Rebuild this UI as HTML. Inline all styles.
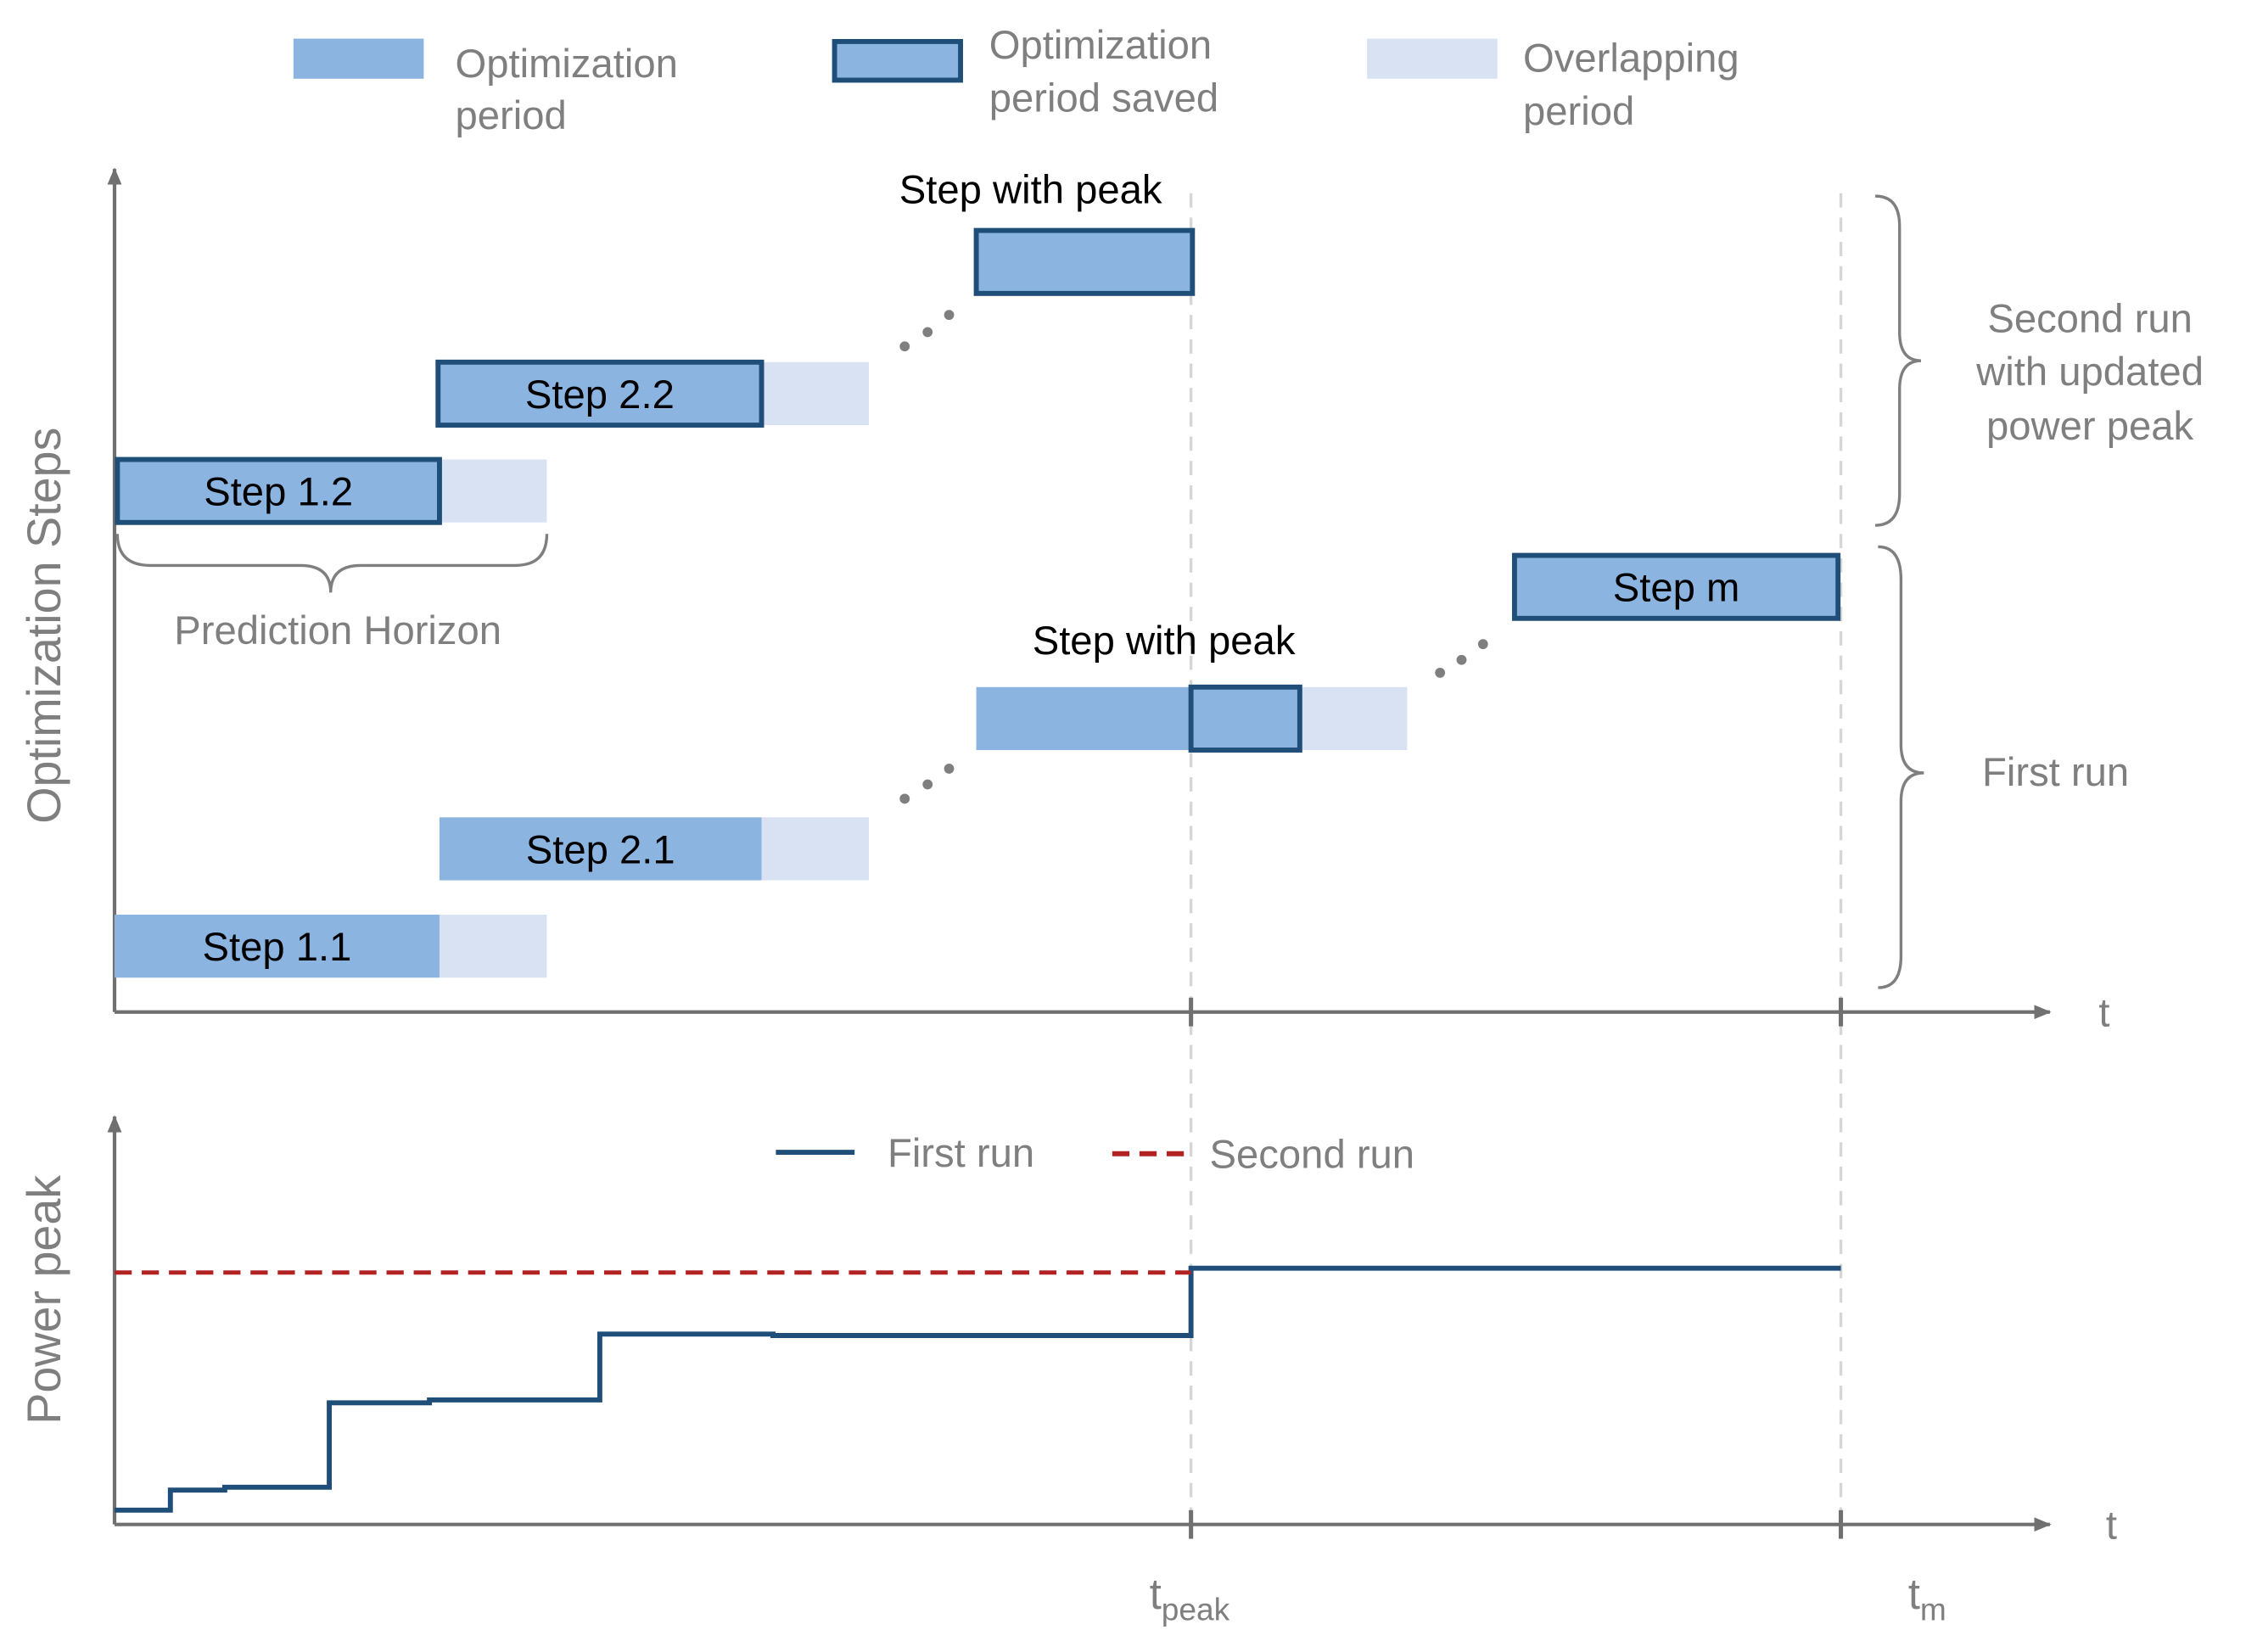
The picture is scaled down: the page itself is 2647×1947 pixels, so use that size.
<!DOCTYPE html>
<html><head><meta charset="utf-8"><style>
html,body{margin:0;padding:0;background:#fff}
svg{display:block}
text{font-family:"Liberation Sans",sans-serif}
.g{fill:#7f7f7f}
.k{fill:#000}
</style></head><body>
<svg id="chart" width="2647" height="1947" viewBox="0 0 1569 1154.1" xmlns="http://www.w3.org/2000/svg">
<defs>
<marker id="arr" markerWidth="12" markerHeight="10" refX="11" refY="5" orient="auto" markerUnits="userSpaceOnUse"><path d="M0,0 L12,5 L0,10 Z" fill="#707070"/></marker>
</defs>
<g>
<rect x="205" y="27" width="91" height="28" fill="#8cb4e0"/>
<text x="318" y="54" font-size="28" class="g">Optimization</text>
<text x="318" y="90" font-size="28" class="g">period</text>
<rect x="583" y="29" width="88" height="27" fill="#8cb4e0" stroke="#1f4e79" stroke-width="3.5"/>
<text x="691" y="41" font-size="28" class="g">Optimization</text>
<text x="691" y="78" font-size="28" class="g">period saved</text>
<rect x="955" y="27" width="91" height="28" fill="#d9e2f3"/>
<text x="1064" y="50" font-size="28" class="g">Overlapping</text>
<text x="1064" y="87" font-size="28" class="g">period</text>
</g>
<line x1="832" y1="135" x2="832" y2="1072" stroke="#d6d6d6" stroke-width="2" stroke-dasharray="10,7"/>
<line x1="1286" y1="135" x2="1286" y2="1072" stroke="#d6d6d6" stroke-width="2" stroke-dasharray="10,7"/>
<line x1="80" y1="707" x2="80" y2="118" stroke="#707070" stroke-width="2.5" marker-end="url(#arr)"/>
<line x1="80" y1="707" x2="1432" y2="707" stroke="#707070" stroke-width="2.5" marker-end="url(#arr)"/>
<text x="1470" y="717" font-size="28" class="g" text-anchor="middle">t</text>
<line x1="832" y1="697" x2="832" y2="717" stroke="#707070" stroke-width="3"/>
<line x1="1286" y1="697" x2="1286" y2="717" stroke="#707070" stroke-width="3"/>
<text transform="translate(42,437) rotate(-90)" font-size="33" class="g" text-anchor="middle">Optimization Steps</text>
<g id="bars"></g>
<g fill="#7f7f7f">
<circle cx="632" cy="242" r="3.5"/><circle cx="648" cy="232" r="3.5"/><circle cx="663" cy="220" r="3.5"/>
<circle cx="632" cy="558" r="3.5"/><circle cx="648" cy="548" r="3.5"/><circle cx="663" cy="537" r="3.5"/>
<circle cx="1006" cy="470" r="3.5"/><circle cx="1021" cy="461" r="3.5"/><circle cx="1036" cy="450" r="3.5"/>
</g>
<text x="720" y="142" font-size="28" class="k" text-anchor="middle">Step with peak</text>
<text x="813" y="457" font-size="28" class="k" text-anchor="middle">Step with peak</text>
<path d="M82,373 Q82,395 105,395 L210,395 Q231,395 231,414 Q231,395 252,395 L360,395 Q382,395 382,373" fill="none" stroke="#7f7f7f" stroke-width="2"/>
<text x="236" y="450" font-size="28" class="g" text-anchor="middle">Prediction Horizon</text>
<path d="M1310,137 Q1327,137 1327,158 L1327,232 Q1327,252 1342,252 Q1327,252 1327,272 L1327,345 Q1327,367 1310,367" fill="none" stroke="#7f7f7f" stroke-width="2"/>
<path d="M1312,382 Q1328,382 1328,405 L1328,520 Q1328,540 1344,540 Q1328,540 1328,560 L1328,668 Q1328,690 1312,690" fill="none" stroke="#7f7f7f" stroke-width="2"/>
<text x="1460" y="232" font-size="28" class="g" text-anchor="middle">Second run</text>
<text x="1460" y="269" font-size="28" class="g" text-anchor="middle">with updated</text>
<text x="1460" y="307" font-size="28" class="g" text-anchor="middle">power peak</text>
<text x="1436" y="549" font-size="28" class="g" text-anchor="middle">First run</text>
<line x1="80" y1="1065" x2="80" y2="780" stroke="#707070" stroke-width="2.5" marker-end="url(#arr)"/>
<line x1="80" y1="1065" x2="1432" y2="1065" stroke="#707070" stroke-width="2.5" marker-end="url(#arr)"/>
<text x="1475" y="1075" font-size="28" class="g" text-anchor="middle">t</text>
<line x1="832" y1="1055" x2="832" y2="1075" stroke="#707070" stroke-width="3"/>
<line x1="1286" y1="1055" x2="1286" y2="1075" stroke="#707070" stroke-width="3"/>
<text transform="translate(42,908) rotate(-90)" font-size="33" class="g" text-anchor="middle">Power peak</text>
<text x="803" y="1124" font-size="30" class="g">t<tspan font-size="22" dy="8">peak</tspan></text>
<text x="1333" y="1124" font-size="30" class="g">t<tspan font-size="22" dy="8">m</tspan></text>
<g>
<line x1="542" y1="805" x2="597" y2="805" stroke="#1f4e79" stroke-width="3.5"/>
<text x="620" y="815" font-size="28" class="g">First run</text>
<line x1="777" y1="806" x2="832" y2="806" stroke="#b22222" stroke-width="3.5" stroke-dasharray="12,7"/>
<text x="845" y="816" font-size="28" class="g">Second run</text>
</g>
<path id="line1" fill="none" stroke="#1f4e79" stroke-width="3.5"/>
<line id="line2" stroke="#b22222" stroke-width="3" stroke-dasharray="12,7"/>
</svg>
<script>
const barLabels = ["Step 1.1","Step 2.1","","Step m","Step 1.2","Step 2.2",""];
const barStart = [80,307,682,1058,82,306,682];
const barEnd = [307,532,832,1284,307,532,833];
const barTop = [639,571,480,388,321,253,161];
const barBordered = [0,0,0,1,1,1,1];
const overlapEnd = [382,607,983,0,382,607,0];
const savedEnd = [0,0,908,0,0,0,0];
const stepT = [80,119,157,230,300,419,540,832,1286];
const stepV = [1055,1041,1039,980,978,932,933,886,886];
const secondRunV = 889;
const secondRunEnd = 832;

const NS="http://www.w3.org/2000/svg";
const g=document.getElementById('bars');
const H=44;
function mk(tag,attrs){const e=document.createElementNS(NS,tag);for(const k in attrs)e.setAttribute(k,attrs[k]);return e;}
barLabels.forEach((lab,i)=>{
  if(overlapEnd[i]){
    const o=mk('rect',{x:barEnd[i],y:barTop[i],width:overlapEnd[i]-barEnd[i],height:H,fill:'#d9e2f3'});
    
    
    g.appendChild(o);
  }
  const r=mk('rect',{x:barStart[i],y:barTop[i],width:barEnd[i]-barStart[i],height:H,fill:'#8cb4e0'});
  if(barBordered[i]){r.setAttribute('stroke','#1f4e79');r.setAttribute('stroke-width','3.5');}
  
  
  g.appendChild(r);
  if(savedEnd[i]){
    const s=mk('rect',{x:barEnd[i],y:barTop[i],width:savedEnd[i]-barEnd[i],height:H,fill:'#8cb4e0',stroke:'#1f4e79','stroke-width':3.5});
    
    
    g.appendChild(s);
  }
  if(lab){
    const t=mk('text',{x:(barStart[i]+barEnd[i])/2,y:barTop[i]+32,'font-size':28,'text-anchor':'middle',fill:'#000'});
    t.textContent=lab;
    
    
    g.appendChild(t);
  }
});
let d='M'+stepT[0]+','+stepV[0];
for(let i=1;i<stepT.length;i++){d+=' L'+stepT[i]+','+stepV[i-1]+' L'+stepT[i]+','+stepV[i];}
document.getElementById('line1').setAttribute('d',d);
const l2=document.getElementById('line2');
l2.setAttribute('x1',80);l2.setAttribute('x2',secondRunEnd);
l2.setAttribute('y1',secondRunV);l2.setAttribute('y2',secondRunV);
</script>
</body></html>
